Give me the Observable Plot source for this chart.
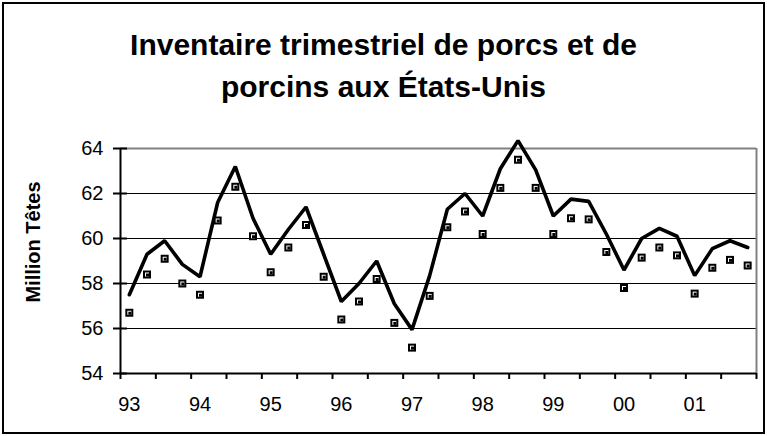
<!DOCTYPE html>
<html>
<head>
<meta charset="utf-8">
<script src="https://cdn.jsdelivr.net/npm/d3@7"></script>
<script src="https://cdn.jsdelivr.net/npm/@observablehq/plot@0.6"></script>
<style>
  html, body { margin: 0; padding: 0; background: #fff; }
  #wrap { position: relative; width: 767px; height: 436px; overflow: hidden; font-family: "Liberation Sans", Arial, sans-serif; }
  #frame { position: absolute; left: 2px; top: 2px; width: 759px; height: 428px; border: 2px solid #000; pointer-events: none; }
  #title { position: absolute; left: 0; top: 24px; width: 767px; text-align: center; font-weight: bold; font-size: 30px; line-height: 42px; color: #000; }
  #ylabel { position: absolute; left: 33px; top: 242px; transform: translate(-50%, -50%) rotate(-90deg); white-space: nowrap; font-weight: bold; font-size: 20px; color: #000; }
  #chart { position: absolute; left: 0; top: 0; }
</style>
</head>
<body>
<div id="wrap">
  <div id="chart"></div>
  <div id="title">Inventaire trimestriel de porcs et de<br>porcins aux États-Unis</div>
  <div id="ylabel">Million Têtes</div>
  <div id="frame"></div>
</div>
<script>
// Quarterly index (Q1 1993 .. Q4 2001)
const quarters = d3.range(36);
// Line series (million head)
const lineValues = [57.5, 59.3, 59.9, 58.85, 58.3, 61.6, 63.2, 60.9, 59.3, 60.4, 61.4, 59.3,
                    57.2, 58.0, 59.0, 57.1, 55.95, 58.35, 61.3, 62.0, 61.0, 63.1, 64.35, 63.05,
                    61.0, 61.75, 61.65, 60.2, 58.6, 60.0, 60.45, 60.1, 58.35, 59.55, 59.9, 59.6];
// Marker series (million head)
const markerValues = [56.7, 58.4, 59.1, 58.0, 57.5, 60.8, 62.3, 60.1, 58.5, 59.6, 60.6, 58.3,
                      56.4, 57.2, 58.2, 56.25, 55.15, 57.45, 60.5, 61.2, 60.2, 62.25, 63.5, 62.25,
                      60.2, 60.9, 60.85, 59.4, 57.8, 59.15, 59.6, 59.25, 57.55, 58.7, 59.05, 58.8];
// Tick labels
const yearLabels = ["93", "94", "95", "96", "97", "98", "99", "00", "01"];
const yTicks = [54, 56, 58, 60, 62, 64];
const yGrid = [56, 58, 60, 62];

const lineData = quarters.map(i => ({q: i, v: lineValues[i]}));
const markerData = quarters.map(i => ({q: i, v: markerValues[i]}));
const xTickBounds = d3.range(0, 19).map(k => -0.5 + 2 * k);
const xLabelPos = yearLabels.map((_, k) => 4 * k);

const chart = Plot.plot({
  width: 767,
  height: 436,
  marginLeft: 120,
  marginRight: 11,
  marginTop: 148,
  marginBottom: 63,
  style: {fontFamily: "'Liberation Sans', Arial, sans-serif", fontSize: "20px", color: "#000", background: "transparent"},
  x: {domain: [-0.5, 35.5], axis: null},
  y: {domain: [54, 64], axis: null},
  marks: [
    Plot.ruleY(yGrid, {stroke: "#000", strokeWidth: 1}),
    Plot.ruleY([64], {stroke: "#808080", strokeWidth: 2}),
    Plot.ruleX([35.5], {stroke: "#808080", strokeWidth: 2}),
    Plot.axisY(yTicks, {anchor: "left", label: null, tickSize: 7, tickPadding: 10, strokeWidth: 2, fill: "#000"}),
    Plot.ruleY(yTicks, {x1: -0.5, x2: -0.5 + 7 / 17.67, stroke: "#000", strokeWidth: 2}),
    Plot.axisX(xTickBounds, {anchor: "bottom", label: null, tickSize: 6, strokeWidth: 2, tickFormat: () => ""}),
    Plot.axisX(xLabelPos, {anchor: "bottom", label: null, tickSize: 0, tickPadding: 23, fill: "#000", tickFormat: d => yearLabels[d / 4]}),
    Plot.ruleX([-0.5], {stroke: "#000", strokeWidth: 2}),
    Plot.ruleY([54], {stroke: "#000", strokeWidth: 2}),
    Plot.line(lineData, {x: "q", y: "v", stroke: "#000", strokeWidth: 3.6, strokeLinejoin: "miter"}),
    Plot.dot(markerData, {x: "q", y: "v", symbol: "square", r: 4.5, fill: "#000", stroke: "none"}),
    Plot.dot(markerData, {x: "q", y: "v", symbol: "square", r: 2.26, fill: "#fff", stroke: "none"}),
    Plot.dot(markerData, {x: "q", y: "v", symbol: "square", r: 1.69, dx: 0.5, dy: 0.5, fill: "#000", stroke: "none"})
  ]
});
document.getElementById("chart").appendChild(chart);
</script>
</body>
</html>
